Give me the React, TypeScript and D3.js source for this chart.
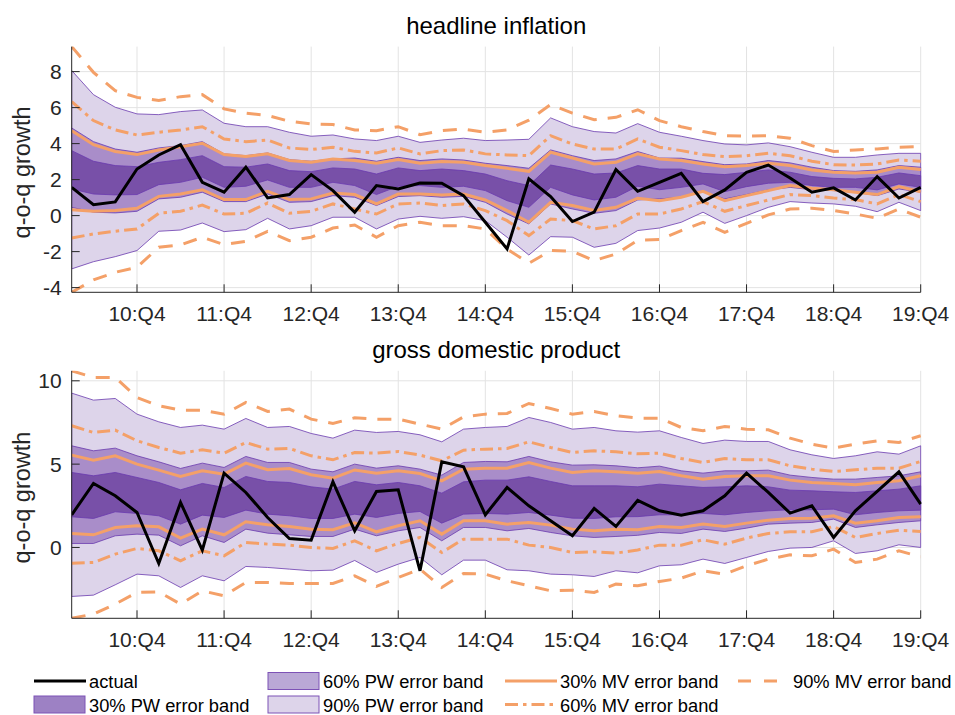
import React from "react";
import * as d3 from "d3";

// Quarterly axis: 2010:Q1 .. 2019:Q4, labelled at each Q4
const xTickIndex = [3, 7, 11, 15, 19, 23, 27, 31, 35, 39];
const xTickLabels = ["10:Q4", "11:Q4", "12:Q4", "13:Q4", "14:Q4", "15:Q4", "16:Q4", "17:Q4", "18:Q4", "19:Q4"];

// ---------------- headline inflation ----------------
const inflYTicks = [-4, -2, 0, 2, 4, 6, 8];
const inflYDomain = [-4.26, 9.39];
const inflActual = [1.57, 0.61, 0.76, 2.59, 3.37, 3.94, 1.85, 1.3, 2.69, 0.98, 1.17, 2.28, 1.39, 0.19, 1.67, 1.48, 1.81, 1.8, 1.11, -0.37, -1.85, 2.04, 1.06, -0.33, 0.19, 2.56, 1.35, 1.85, 2.35, 0.78, 1.43, 2.41, 2.81, 2.09, 1.3, 1.54, 0.87, 2.17, 0.98, 1.57];
const inflPw90Hi = [8.06, 6.72, 6.02, 5.65, 5.61, 5.78, 5.87, 5.13, 4.94, 4.94, 4.63, 4.41, 4.48, 4.26, 4.17, 4.41, 4.07, 4.2, 4.3, 4.17, 4.2, 4.24, 5.43, 4.94, 4.67, 4.59, 5.11, 4.63, 4.41, 4.17, 3.98, 3.93, 4.04, 3.83, 3.52, 3.24, 3.24, 3.37, 3.46, 3.46];
const inflPw90Lo = [-2.96, -2.56, -2.28, -1.94, -0.87, -0.8, -0.41, -0.89, -0.78, -0.15, -0.74, -0.56, -0.09, -0.09, -0.74, -0.19, -0.04, -0.15, -0.06, -0.28, -1.2, -2.19, -1.17, -1.2, -1.76, -1.54, -0.83, -0.69, -0.37, 0.19, -0.43, 0.0, 0.46, 0.78, 0.7, 0.65, 0.52, 0.22, 0.74, 0.28];
const inflPw60Hi = [4.87, 4.11, 3.7, 3.52, 3.76, 3.89, 4.11, 3.43, 3.33, 3.48, 3.11, 3.02, 3.15, 3.2, 3.02, 3.24, 3.06, 3.15, 3.09, 2.91, 2.78, 2.63, 3.65, 3.33, 3.06, 3.15, 3.56, 3.2, 3.19, 3.0, 2.83, 2.87, 3.06, 2.93, 2.69, 2.5, 2.46, 2.54, 2.78, 2.69];
const inflPw60Lo = [0.46, 0.19, 0.15, 0.24, 0.93, 1.02, 1.3, 0.78, 0.78, 1.2, 0.74, 0.78, 1.11, 1.02, 0.56, 1.06, 1.11, 1.02, 1.07, 0.74, 0.09, -0.46, 0.65, 0.37, 0.13, 0.28, 0.87, 0.93, 1.02, 1.33, 0.93, 1.17, 1.43, 1.57, 1.44, 1.39, 1.3, 1.11, 1.48, 1.3];
const inflPw30Hi = [3.61, 3.02, 2.78, 2.72, 2.96, 3.11, 3.33, 2.72, 2.69, 2.87, 2.5, 2.44, 2.65, 2.59, 2.31, 2.65, 2.5, 2.59, 2.5, 2.31, 1.94, 1.67, 2.81, 2.59, 2.31, 2.37, 2.78, 2.59, 2.59, 2.35, 2.28, 2.41, 2.54, 2.41, 2.17, 2.07, 2.04, 2.13, 2.37, 2.22];
const inflPw30Lo = [1.48, 1.2, 1.15, 1.17, 1.72, 1.85, 2.13, 1.57, 1.63, 1.98, 1.57, 1.57, 1.85, 1.67, 1.17, 1.63, 1.67, 1.57, 1.63, 1.39, 0.83, 0.46, 1.57, 1.15, 0.87, 1.02, 1.63, 1.44, 1.57, 1.76, 1.33, 1.61, 1.8, 1.85, 1.67, 1.57, 1.57, 1.43, 1.76, 1.57];
const inflMv30Hi = [4.72, 3.94, 3.56, 3.39, 3.65, 3.83, 4.02, 3.39, 3.28, 3.43, 3.06, 2.96, 3.15, 3.06, 2.91, 3.11, 2.91, 3.0, 2.96, 2.78, 2.63, 2.46, 3.52, 3.2, 2.87, 2.96, 3.43, 3.15, 3.06, 2.87, 2.72, 2.78, 2.91, 2.78, 2.54, 2.41, 2.37, 2.41, 2.69, 2.56];
const inflMv30Lo = [0.33, 0.24, 0.28, 0.41, 1.07, 1.2, 1.44, 0.89, 0.89, 1.35, 0.89, 0.93, 1.26, 1.17, 0.65, 1.2, 1.2, 1.15, 1.2, 0.87, 0.28, -0.37, 0.74, 0.56, 0.28, 0.46, 0.96, 0.83, 1.02, 1.35, 0.83, 1.11, 1.39, 1.67, 1.52, 1.44, 1.3, 1.17, 1.61, 1.33];
const inflMv60Hi = [6.33, 5.28, 4.76, 4.48, 4.63, 4.76, 4.94, 4.26, 4.11, 4.2, 3.76, 3.67, 3.8, 3.57, 3.48, 3.76, 3.43, 3.61, 3.65, 3.43, 3.37, 3.33, 4.44, 3.98, 3.7, 3.7, 4.26, 3.8, 3.61, 3.39, 3.28, 3.33, 3.46, 3.33, 3.02, 2.83, 2.81, 2.87, 3.09, 3.02];
const inflMv60Lo = [-1.24, -1.02, -0.87, -0.74, 0.13, 0.24, 0.59, 0.09, 0.13, 0.7, 0.13, 0.24, 0.65, 0.37, 0.09, 0.65, 0.7, 0.56, 0.65, 0.28, -0.28, -1.11, -0.19, -0.28, -0.74, -0.56, 0.09, 0.09, 0.37, 0.78, 0.24, 0.56, 0.87, 1.17, 1.11, 0.98, 0.89, 0.65, 1.17, 0.78];
const inflMv90Hi = [9.39, 7.96, 6.94, 6.57, 6.39, 6.61, 6.72, 5.93, 5.69, 5.56, 5.24, 5.09, 5.06, 4.76, 4.72, 4.94, 4.5, 4.72, 4.81, 4.63, 4.76, 5.3, 6.17, 5.69, 5.33, 5.46, 5.88, 5.28, 4.94, 4.67, 4.44, 4.41, 4.44, 4.3, 3.89, 3.56, 3.65, 3.7, 3.8, 3.83];
const inflMv90Lo = [-4.26, -3.57, -3.15, -2.87, -1.76, -1.63, -1.2, -1.61, -1.43, -0.87, -1.39, -1.2, -0.69, -0.52, -1.2, -0.56, -0.37, -0.56, -0.56, -0.74, -1.85, -2.65, -1.94, -1.98, -2.5, -2.13, -1.37, -1.33, -0.83, -0.37, -0.93, -0.43, 0.04, 0.37, 0.41, 0.28, 0.09, -0.15, 0.37, -0.09];

// ---------------- gross domestic product ----------------
const gdpYTicks = [0, 5, 10];
const gdpYDomain = [-4.25, 10.6];
const gdpActual = [1.96, 3.84, 3.1, 2.1, -0.96, 2.7, -0.16, 4.46, 3.3, 1.8, 0.54, 0.44, 3.94, 1.0, 3.36, 3.46, -1.4, 5.14, 4.84, 1.96, 3.6, 2.5, 1.6, 0.7, 2.34, 1.26, 2.82, 2.2, 1.94, 2.2, 3.1, 4.46, 3.3, 2.06, 2.5, 0.6, 2.2, 3.36, 4.54, 2.6];
const gdpPw90Hi = [9.26, 8.84, 8.94, 8.0, 7.54, 7.2, 7.34, 7.1, 7.74, 7.2, 7.26, 6.84, 6.56, 7.04, 6.9, 6.96, 6.76, 6.34, 7.1, 7.2, 7.26, 7.8, 7.5, 7.1, 7.2, 7.0, 6.92, 7.0, 6.6, 6.24, 6.44, 6.36, 6.36, 5.86, 5.56, 5.34, 5.5, 5.74, 5.6, 6.1];
const gdpPw90Lo = [-2.94, -2.86, -2.24, -1.6, -1.7, -2.4, -1.7, -2.0, -1.14, -1.2, -1.3, -1.4, -1.36, -0.78, -1.5, -1.0, -0.6, -1.64, -0.76, -0.76, -1.34, -1.4, -1.6, -1.64, -1.74, -1.4, -1.52, -1.1, -1.04, -0.7, -0.96, -0.6, -0.24, -0.04, 0.0, 0.4, -0.36, -0.2, 0.16, 0.0];
const gdpPw60Hi = [6.1, 5.8, 5.96, 5.5, 5.14, 4.74, 5.06, 4.8, 5.46, 5.1, 5.1, 4.7, 4.54, 5.0, 4.76, 4.9, 4.7, 4.34, 5.1, 5.16, 5.14, 5.46, 5.14, 4.94, 4.96, 4.9, 4.78, 4.88, 4.6, 4.46, 4.6, 4.6, 4.64, 4.34, 4.2, 4.1, 4.1, 4.2, 4.3, 4.54];
const gdpPw60Lo = [0.24, 0.24, 0.7, 0.8, 0.74, 0.1, 0.7, 0.3, 1.1, 0.86, 0.76, 0.66, 0.66, 1.1, 0.7, 1.0, 1.2, 0.4, 1.2, 1.2, 1.0, 1.14, 0.9, 0.7, 0.6, 0.66, 0.73, 0.9, 0.84, 1.1, 0.96, 1.16, 1.4, 1.46, 1.5, 1.7, 1.2, 1.36, 1.5, 1.6];
const gdpPw30Hi = [4.5, 4.3, 4.5, 4.2, 3.9, 3.46, 3.84, 3.6, 4.26, 3.96, 3.9, 3.64, 3.5, 3.96, 3.76, 3.9, 3.7, 3.26, 3.94, 4.04, 4.04, 4.24, 3.96, 3.7, 3.7, 3.7, 3.64, 3.8, 3.7, 3.6, 3.64, 3.7, 3.64, 3.44, 3.4, 3.34, 3.3, 3.4, 3.5, 3.7];
const gdpPw30Lo = [1.84, 1.74, 2.14, 2.04, 1.9, 1.4, 1.94, 1.8, 2.24, 2.0, 1.9, 1.74, 1.74, 2.0, 1.8, 2.04, 2.16, 1.46, 2.0, 2.04, 2.0, 2.1, 1.94, 1.76, 1.74, 1.84, 1.85, 1.96, 1.96, 2.04, 1.96, 2.1, 2.2, 2.26, 2.26, 2.3, 1.96, 2.1, 2.2, 2.24];
const gdpMv30Hi = [5.54, 5.24, 5.5, 5.0, 4.64, 4.26, 4.6, 4.4, 5.06, 4.66, 4.74, 4.36, 4.16, 4.65, 4.46, 4.6, 4.44, 4.0, 4.7, 4.76, 4.76, 5.1, 4.76, 4.5, 4.6, 4.54, 4.46, 4.56, 4.3, 4.1, 4.26, 4.3, 4.3, 4.04, 3.9, 3.84, 3.76, 3.9, 4.0, 4.3];
const gdpMv30Lo = [0.84, 0.76, 1.2, 1.3, 1.24, 0.56, 1.1, 0.76, 1.54, 1.36, 1.26, 1.1, 1.06, 1.48, 0.94, 1.3, 1.6, 0.8, 1.6, 1.6, 1.4, 1.5, 1.34, 1.1, 1.0, 1.1, 1.07, 1.26, 1.2, 1.4, 1.26, 1.46, 1.64, 1.74, 1.76, 1.9, 1.46, 1.6, 1.8, 1.84];
const gdpMv60Hi = [7.3, 6.9, 7.04, 6.4, 6.0, 5.66, 5.86, 5.66, 6.3, 5.9, 5.94, 5.5, 5.26, 5.7, 5.66, 5.76, 5.54, 5.2, 5.84, 5.9, 5.94, 6.34, 6.0, 5.7, 5.8, 5.74, 5.62, 5.66, 5.34, 5.1, 5.34, 5.26, 5.26, 4.9, 4.7, 4.56, 4.66, 4.76, 4.76, 5.16];
const gdpMv60Lo = [-0.94, -0.9, -0.4, -0.06, -0.2, -0.8, -0.2, -0.5, 0.3, 0.2, 0.14, 0.0, -0.06, 0.4, -0.2, 0.24, 0.6, -0.3, 0.5, 0.5, 0.5, 0.14, 0.0, -0.3, -0.26, -0.34, -0.15, 0.14, 0.14, 0.46, 0.2, 0.56, 0.84, 0.94, 0.94, 1.26, 0.6, 0.84, 1.04, 0.96];
const gdpMv90Hi = [10.6, 10.2, 10.2, 9.0, 8.5, 8.24, 8.24, 8.0, 8.7, 8.16, 8.3, 7.7, 7.44, 7.78, 7.7, 7.7, 7.4, 7.1, 7.84, 8.0, 8.04, 8.64, 8.34, 8.0, 8.16, 7.9, 7.76, 7.76, 7.2, 7.0, 7.26, 7.1, 7.06, 6.56, 6.2, 5.96, 6.2, 6.4, 6.3, 6.7];
const gdpMv90Lo = [-4.24, -4.0, -3.4, -2.7, -2.66, -3.4, -2.6, -2.9, -2.1, -2.1, -2.16, -2.16, -2.16, -1.7, -2.34, -1.8, -1.3, -2.4, -1.56, -1.6, -2.0, -2.3, -2.6, -2.56, -2.7, -2.2, -2.3, -2.04, -1.84, -1.4, -1.6, -1.1, -0.7, -0.44, -0.5, -0.1, -0.9, -0.7, -0.2, -0.56];

// ---------------- styling ----------------
const FONT = "'Liberation Sans', Arial, Helvetica, sans-serif";
const AXIS = "#262626";
const GRID = "#e3e3e3";
const EDGE = "#6a3aae";
const ORANGE = "#f4a068";
const BAND_FILL = { pw90: "#ddd4ea", pw60: "#a98dc9", pw30: "#7850a8" };
const SWATCH_FILL = { pw30: "#9d81c4", pw60: "#baa8d6", pw90: "#ddd4ea" };
const DASH_90 = "14 11";
const DASH_60 = "13 5 3.5 5";

const X_LEFT = 71.7;
const X_RIGHT = 920.7;

type Series = {
  actual: number[];
  pw30: [number[], number[]];
  pw60: [number[], number[]];
  pw90: [number[], number[]];
  mv30: [number[], number[]];
  mv60: [number[], number[]];
  mv90: [number[], number[]];
};

const inflation: Series = {
  actual: inflActual,
  pw30: [inflPw30Lo, inflPw30Hi],
  pw60: [inflPw60Lo, inflPw60Hi],
  pw90: [inflPw90Lo, inflPw90Hi],
  mv30: [inflMv30Lo, inflMv30Hi],
  mv60: [inflMv60Lo, inflMv60Hi],
  mv90: [inflMv90Lo, inflMv90Hi],
};

const gdp: Series = {
  actual: gdpActual,
  pw30: [gdpPw30Lo, gdpPw30Hi],
  pw60: [gdpPw60Lo, gdpPw60Hi],
  pw90: [gdpPw90Lo, gdpPw90Hi],
  mv30: [gdpMv30Lo, gdpMv30Hi],
  mv60: [gdpMv60Lo, gdpMv60Hi],
  mv90: [gdpMv90Lo, gdpMv90Hi],
};

function Panel(props: {
  id: string;
  title: string;
  top: number;
  bottom: number;
  yDomain: number[];
  yTicks: number[];
  s: Series;
}) {
  const { id, title, top, bottom, yDomain, yTicks, s } = props;
  const n = s.actual.length;
  const x = d3.scaleLinear().domain([0, n - 1]).range([X_LEFT, X_RIGHT]);
  const y = d3.scaleLinear().domain(yDomain).range([bottom, top]);

  const band = (lo: number[], hi: number[]) =>
    d3
      .area<number>()
      .x((_, i) => x(i))
      .y0((_, i) => y(lo[i]))
      .y1((_, i) => y(hi[i]))(lo) as string;
  const line = (v: number[]) =>
    d3
      .line<number>()
      .x((_, i) => x(i))
      .y((d) => y(d))(v) as string;

  const clipId = `clip-${id}`;
  const midX = (X_LEFT + X_RIGHT) / 2;

  return (
    <g>
      <defs>
        <clipPath id={clipId}>
          <rect x={X_LEFT} y={top} width={X_RIGHT - X_LEFT + 1} height={bottom - top} />
        </clipPath>
      </defs>

      {/* grid */}
      {yTicks.map((t) => (
        <line key={`gy${t}`} x1={X_LEFT} x2={X_RIGHT} y1={y(t)} y2={y(t)} stroke={GRID} strokeWidth={1} />
      ))}
      {xTickIndex.map((t) => (
        <line key={`gx${t}`} x1={x(t)} x2={x(t)} y1={top} y2={bottom} stroke={GRID} strokeWidth={1} />
      ))}

      <g clipPath={`url(#${clipId})`}>
        {/* pointwise bands */}
        <path d={band(s.pw90[0], s.pw90[1])} fill={BAND_FILL.pw90} stroke={EDGE} strokeWidth={0.8} />
        <path d={band(s.pw60[0], s.pw60[1])} fill={BAND_FILL.pw60} stroke={EDGE} strokeWidth={0.8} />
        <path d={band(s.pw30[0], s.pw30[1])} fill={BAND_FILL.pw30} stroke={EDGE} strokeWidth={0.8} />

        {/* multivariate bands */}
        {[s.mv90[0], s.mv90[1]].map((v, k) => (
          <path key={`m90${k}`} d={line(v)} fill="none" stroke={ORANGE} strokeWidth={3} strokeDasharray={DASH_90} />
        ))}
        {[s.mv60[0], s.mv60[1]].map((v, k) => (
          <path key={`m60${k}`} d={line(v)} fill="none" stroke={ORANGE} strokeWidth={3} strokeDasharray={DASH_60} />
        ))}
        {[s.mv30[0], s.mv30[1]].map((v, k) => (
          <path key={`m30${k}`} d={line(v)} fill="none" stroke={ORANGE} strokeWidth={3} />
        ))}

        {/* realised values */}
        <path d={line(s.actual)} fill="none" stroke="#000" strokeWidth={3} strokeLinejoin="miter" />
      </g>

      {/* axes */}
      <line x1={X_LEFT} x2={X_LEFT} y1={top} y2={bottom} stroke={AXIS} strokeWidth={1} />
      <line x1={X_LEFT} x2={X_RIGHT} y1={bottom} y2={bottom} stroke={AXIS} strokeWidth={1} />
      {yTicks.map((t) => (
        <g key={`ty${t}`}>
          <line x1={X_LEFT} x2={X_LEFT + 8} y1={y(t)} y2={y(t)} stroke={AXIS} strokeWidth={1} />
          <text
            x={X_LEFT - 10}
            y={y(t) + 7.5}
            textAnchor="end"
            fontSize={21}
            fontFamily={FONT}
            fill={AXIS}
          >
            {t}
          </text>
        </g>
      ))}
      {xTickIndex.map((t, k) => (
        <g key={`tx${t}`}>
          <line x1={x(t)} x2={x(t)} y1={bottom} y2={bottom - 8} stroke={AXIS} strokeWidth={1} />
          <text x={x(t)} y={bottom + 29} textAnchor="middle" fontSize={21} fontFamily={FONT} fill={AXIS}>
            {xTickLabels[k]}
          </text>
        </g>
      ))}

      <text x={midX} y={top - 13} textAnchor="middle" fontSize={24} fontFamily={FONT} fill="#000">
        {title}
      </text>
      <text
        transform={`translate(30, ${(top + bottom) / 2 + 3}) rotate(-90)`}
        textAnchor="middle"
        fontSize={23.5}
        fontFamily={FONT}
        fill={AXIS}
      >
        q-o-q growth
      </text>
    </g>
  );
}

type LegendItem = { label: string; kind: "line" | "swatch"; color: string; dash?: string };

const legendItems: LegendItem[] = [
  { label: "actual", kind: "line", color: "#000" },
  { label: "30% PW error band", kind: "swatch", color: SWATCH_FILL.pw30 },
  { label: "60% PW error band", kind: "swatch", color: SWATCH_FILL.pw60 },
  { label: "90% PW error band", kind: "swatch", color: SWATCH_FILL.pw90 },
  { label: "30% MV error band", kind: "line", color: ORANGE },
  { label: "60% MV error band", kind: "line", color: ORANGE, dash: DASH_60 },
  { label: "90% MV error band", kind: "line", color: ORANGE, dash: "13 13" },
];

const legendCols = [34, 268, 505, 738];
const legendRows = [681, 704.5];

function Legend() {
  return (
    <g>
      {legendItems.map((it, k) => {
        const cx = legendCols[Math.floor(k / 2)];
        const cy = legendRows[k % 2];
        return (
          <g key={it.label}>
            {it.kind === "line" ? (
              <line
                x1={cx}
                x2={cx + 52}
                y1={cy}
                y2={cy}
                stroke={it.color}
                strokeWidth={3}
                strokeDasharray={it.dash}
              />
            ) : (
              <rect x={cx} y={cy - 8.5} width={51} height={17} fill={it.color} stroke="#7d52b6" strokeWidth={1} />
            )}
            <text x={cx + 55} y={cy + 7} fontSize={18.3} fontFamily={FONT} fill="#000">
              {it.label}
            </text>
          </g>
        );
      })}
    </g>
  );
}

export default function App() {
  return (
    <svg
      width={955}
      height={715}
      viewBox="0 0 955 715"
      style={{ position: "absolute", left: 0, top: 0, background: "#fff" }}
    >
      <rect x={0} y={0} width={955} height={715} fill="#fff" />
      <Panel
        id="infl"
        title="headline inflation"
        top={46.6}
        bottom={292.3}
        yDomain={inflYDomain}
        yTicks={inflYTicks}
        s={inflation}
      />
      <Panel
        id="gdp"
        title="gross domestic product"
        top={370.8}
        bottom={618.3}
        yDomain={gdpYDomain}
        yTicks={gdpYTicks}
        s={gdp}
      />
      <Legend />
    </svg>
  );
}
